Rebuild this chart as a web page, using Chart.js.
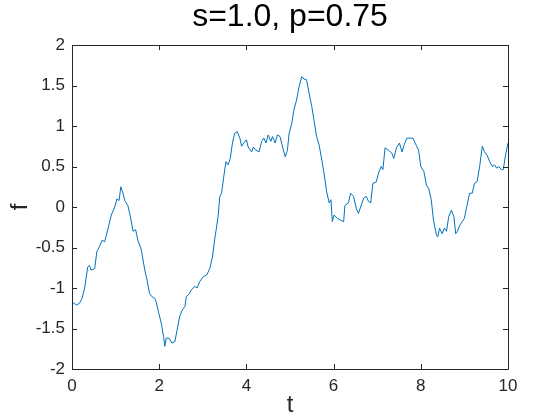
<!DOCTYPE html>
<html>
<head>
<meta charset="utf-8">
<script src="https://cdn.jsdelivr.net/npm/chart.js@4"></script>
<style>
  html, body { margin: 0; padding: 0; background: #fff; }
  #wrap { width: 560px; height: 420px; }
</style>
</head>
<body>
<div id="wrap"><canvas id="chart"></canvas></div>
<script>
// values
const tValues = [
    0.00, 0.10, 0.17, 0.23, 0.29, 0.36, 0.40, 0.44, 0.52, 0.57, 0.63, 0.69, 0.75, 0.82, 0.90, 0.98,
    1.03, 1.08, 1.12, 1.17, 1.21, 1.28, 1.34, 1.40, 1.46, 1.51, 1.59, 1.67, 1.72, 1.78, 1.84, 1.90,
    1.93, 1.99, 2.05, 2.10, 2.13, 2.16, 2.23, 2.29, 2.36, 2.41, 2.47, 2.53, 2.59, 2.62, 2.69, 2.74,
    2.82, 2.87, 2.93, 3.01, 3.09, 3.16, 3.22, 3.28, 3.31, 3.35, 3.39, 3.43, 3.48, 3.53, 3.58, 3.63,
    3.68, 3.73, 3.79, 3.85, 3.89, 3.94, 4.00, 4.04, 4.12, 4.16, 4.22, 4.29, 4.35, 4.40, 4.45, 4.50,
    4.56, 4.60, 4.66, 4.71, 4.77, 4.83, 4.89, 4.94, 4.98, 5.04, 5.09, 5.15, 5.21, 5.27, 5.32, 5.38,
    5.44, 5.50, 5.55, 5.61, 5.67, 5.73, 5.78, 5.84, 5.90, 5.94, 5.97, 6.01, 6.09, 6.15, 6.23, 6.26,
    6.34, 6.39, 6.46, 6.52, 6.57, 6.62, 6.69, 6.75, 6.80, 6.85, 6.90, 6.98, 7.03, 7.09, 7.13, 7.18,
    7.26, 7.34, 7.38, 7.44, 7.51, 7.57, 7.62, 7.68, 7.76, 7.82, 7.87, 7.95, 8.00, 8.07, 8.13, 8.18,
    8.24, 8.29, 8.36, 8.39, 8.43, 8.49, 8.54, 8.59, 8.64, 8.70, 8.76, 8.80, 8.84, 8.90, 8.95, 9.00,
    9.06, 9.12, 9.18, 9.23, 9.29, 9.35, 9.41, 9.46, 9.52, 9.58, 9.64, 9.69, 9.74, 9.79, 9.85, 9.89,
    9.95, 10.00
];
const fValues = [
    -1.17, -1.21, -1.19, -1.13, -1.00, -0.74, -0.72, -0.78, -0.76, -0.55, -0.49, -0.41, -0.43, -0.28, -0.10, 0.00,
    0.10, 0.08, 0.25, 0.17, 0.08, 0.02, -0.12, -0.30, -0.28, -0.41, -0.53, -0.78, -0.90, -1.07, -1.11, -1.13,
    -1.17, -1.31, -1.44, -1.60, -1.72, -1.62, -1.62, -1.68, -1.66, -1.52, -1.35, -1.27, -1.23, -1.11, -1.07, -1.02,
    -0.98, -1.00, -0.92, -0.86, -0.84, -0.76, -0.62, -0.37, -0.27, -0.12, 0.13, 0.17, 0.37, 0.56, 0.52, 0.60,
    0.79, 0.91, 0.93, 0.85, 0.75, 0.79, 0.83, 0.74, 0.68, 0.74, 0.70, 0.68, 0.81, 0.85, 0.79, 0.89,
    0.81, 0.87, 0.79, 0.89, 0.87, 0.74, 0.62, 0.70, 0.91, 1.03, 1.20, 1.32, 1.49, 1.61, 1.58, 1.57,
    1.40, 1.24, 1.07, 0.87, 0.76, 0.58, 0.42, 0.19, 0.05, 0.09, -0.18, -0.10, -0.14, -0.16, -0.18, 0.02,
    0.05, 0.17, 0.13, -0.02, -0.08, 0.00, 0.11, 0.13, 0.07, 0.05, 0.29, 0.31, 0.42, 0.50, 0.46, 0.73,
    0.70, 0.66, 0.60, 0.73, 0.79, 0.68, 0.77, 0.85, 0.85, 0.85, 0.79, 0.70, 0.50, 0.44, 0.27, 0.23,
    0.09, -0.16, -0.35, -0.37, -0.26, -0.33, -0.26, -0.30, -0.12, -0.04, -0.12, -0.33, -0.30, -0.22, -0.18, -0.14,
    0.02, 0.17, 0.17, 0.29, 0.31, 0.50, 0.75, 0.68, 0.64, 0.56, 0.50, 0.52, 0.48, 0.50, 0.46, 0.46,
    0.66, 0.79
];
const xTicks = [0, 2, 4, 6, 8, 10];
const yTicks = [-2, -1.5, -1, -0.5, 0, 0.5, 1, 1.5, 2];

const axisColor = '#262626';
const lineColor = '#0072BD';
const fontFamily = "'Liberation Sans', Arial, Helvetica, sans-serif";

// full box plus inward tick marks, as in the original figure
const boxTicks = {
    id: 'boxTicks',
    afterLayout(chart) {
        // center the title over the axes box, not the whole canvas
        const tb = chart.titleBlock;
        if (tb) {
            tb.left = chart.chartArea.left;
            tb.right = chart.chartArea.right;
            tb.width = tb.right - tb.left;
        }
    },
    afterDatasetsDraw(chart) {
        const {ctx, chartArea: a, scales: {x, y}} = chart;
        const len = 5;
        ctx.save();
        ctx.strokeStyle = axisColor;
        ctx.lineWidth = 1;
        ctx.beginPath();
        ctx.rect(a.left + 0.5, a.top + 0.5, a.right - a.left, a.bottom - a.top);
        xTicks.forEach(v => {
            const px = Math.round(x.getPixelForValue(v)) + 0.5;
            ctx.moveTo(px, a.bottom);
            ctx.lineTo(px, a.bottom - len);
            ctx.moveTo(px, a.top);
            ctx.lineTo(px, a.top + len);
        });
        yTicks.forEach(v => {
            const py = Math.round(y.getPixelForValue(v)) + 0.5;
            ctx.moveTo(a.left, py);
            ctx.lineTo(a.left + len, py);
            ctx.moveTo(a.right, py);
            ctx.lineTo(a.right - len, py);
        });
        ctx.stroke();
        ctx.restore();
    }
};

new Chart(document.getElementById('chart'), {
    type: 'line',
    data: {
        datasets: [{
            data: tValues.map((t, i) => ({x: t, y: fValues[i]})),
            borderColor: lineColor,
            borderWidth: 1,
            pointRadius: 0,
            tension: 0,
            fill: false
        }]
    },
    options: {
        responsive: true,
        maintainAspectRatio: false,
        animation: false,
        layout: {padding: {left: 0, right: 52, top: 0, bottom: 0}},
        plugins: {
            legend: {display: false},
            tooltip: {enabled: false},
            title: {
                display: true,
                text: 's=1.0, p=0.75',
                color: '#000',
                font: {family: fontFamily, size: 32, weight: 'normal', lineHeight: 1.1},
                padding: {top: 0, bottom: 9.8}
            }
        },
        scales: {
            x: {
                type: 'linear',
                min: 0,
                max: 10,
                afterFit: s => { s.height = 51; },
                afterBuildTicks: s => { s.ticks = xTicks.map(v => ({value: v})); },
                grid: {drawOnChartArea: false, drawTicks: false},
                border: {display: false},
                ticks: {color: axisColor, padding: 7, maxRotation: 0,
                        font: {family: fontFamily, size: 17},
                        callback: v => String(v)},
                title: {display: true, text: 't', color: axisColor,
                        font: {family: fontFamily, size: 24}, padding: {top: 0, bottom: 0}}
            },
            y: {
                min: -2,
                max: 2,
                afterFit: s => { s.width = 72; },
                afterBuildTicks: s => { s.ticks = yTicks.map(v => ({value: v})); },
                grid: {drawOnChartArea: false, drawTicks: false},
                border: {display: false},
                ticks: {color: axisColor, padding: 7,
                        font: {family: fontFamily, size: 17},
                        callback: v => String(v)},
                title: {display: true, text: 'f', color: axisColor,
                        font: {family: fontFamily, size: 24}, padding: {top: 6, bottom: 0}}
            }
        }
    },
    plugins: [boxTicks]
});
</script>
</body>
</html>
